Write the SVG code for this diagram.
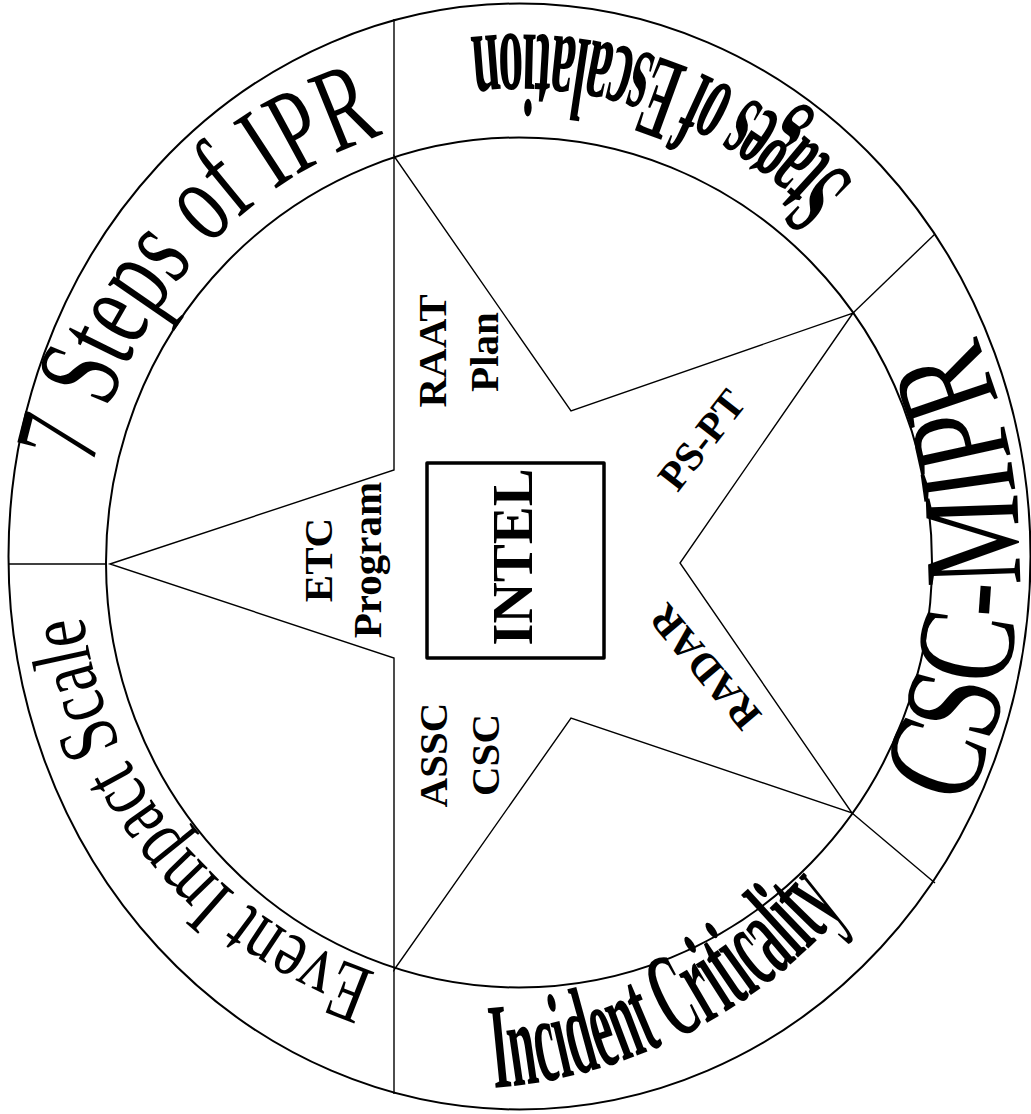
<svg xmlns="http://www.w3.org/2000/svg" width="1031" height="1114" viewBox="0 0 1031 1114">
<style>
.ring{fill:none;stroke:#000;stroke-width:2}
.ln{fill:none;stroke:#000;stroke-width:1.4}
.lbl{font-family:"Liberation Serif","Times New Roman",serif;font-weight:bold;font-size:41px;fill:#000;text-anchor:middle}
.arcR{font-family:"Liberation Serif","Times New Roman",serif;font-weight:normal;fill:#000}
.arcB{font-family:"Liberation Serif","Times New Roman",serif;font-weight:bold;fill:#000}
</style>
<defs>
<path id="p7" d="M 92.8,466.6 A 436,447 0 0,1 384.6,134.4"/>
<path id="pStages" d="M 854.8,181.8 A 483,525 0 0,0 473.0,36.9"/>
<path id="pCsc" d="M 964.8,807.8 A 500,547 0 0,0 974.3,332.7"/>
<path id="pInc" d="M 494,1088 A 520,520 0 0,0 845,910"/>
<path id="pEvent" d="M 376.0,972.7 A 440,437 0 0,1 83.1,616.5"/>
</defs>
<rect width="1031" height="1114" fill="#fff"/>
<g id="rings">
<ellipse class="ring" cx="519.5" cy="556.5" rx="511" ry="553"/>
<ellipse class="ring" cx="519" cy="562.5" rx="413" ry="425"/>
</g>
<g id="connectors">
<polygon class="ln" points="110,564 394,470 394,156 571,411 853,313 680,563 852,813 571,718 394,970 394,658"/>
<line class="ln" x1="394" y1="19" x2="394" y2="156"/>
<line class="ln" x1="394" y1="970" x2="394" y2="1094"/>
<line class="ln" x1="9" y1="564" x2="106" y2="564"/>
<line class="ln" x1="853" y1="313" x2="935" y2="234"/>
<line class="ln" x1="852" y1="813" x2="935" y2="883"/>
</g>
<g id="node-intel">
<rect x="427" y="463" width="177" height="195" fill="none" stroke="#000" stroke-width="3.5" stroke-linejoin="round"/>
<text class="lbl" style="font-size:57px" transform="translate(532,557) rotate(-90)">INTEL</text>
</g>
<g id="node-raat">
<text class="lbl" transform="translate(446,351) rotate(-90)">RAAT</text>
<text class="lbl" transform="translate(498,352) rotate(-90)">Plan</text>
</g>
<g id="node-etc">
<text class="lbl" transform="translate(332,560) rotate(-90)">ETC</text>
<text class="lbl" transform="translate(381,560) rotate(-90)">Program</text>
</g>
<g id="node-assc">
<text class="lbl" transform="translate(447,755) rotate(-90)">ASSC</text>
<text class="lbl" transform="translate(499,755) rotate(-90)">CSC</text>
</g>
<g id="node-pspt">
<text class="lbl" transform="translate(712.6,448.3) rotate(-52)">PS-PT</text>
</g>
<g id="node-radar">
<text class="lbl" transform="translate(715.3,658.3) rotate(-130)">RADAR</text>
</g>
<g id="node-7steps">
<text class="arcR" font-size="120"><textPath href="#p7" textLength="462" lengthAdjust="spacingAndGlyphs">7 Steps of IPR</textPath></text>
</g>
<g id="node-stages">
<text class="arcB" font-size="118"><textPath href="#pStages" textLength="426" lengthAdjust="spacingAndGlyphs">Stages of Escalation</textPath></text>
</g>
<g id="node-cscmipr">
<text class="arcR" font-size="140"><textPath href="#pCsc" textLength="485" lengthAdjust="spacingAndGlyphs">CSC-MIPR</textPath></text>
</g>
<g id="node-incident">
<text class="arcB" font-size="122"><textPath href="#pInc" textLength="404" lengthAdjust="spacingAndGlyphs">Incident Criticality</textPath></text>
</g>
<g id="node-event">
<text class="arcR" font-size="84"><textPath href="#pEvent" textLength="486" lengthAdjust="spacingAndGlyphs">Event Impact Scale</textPath></text>
</g>
</svg>
